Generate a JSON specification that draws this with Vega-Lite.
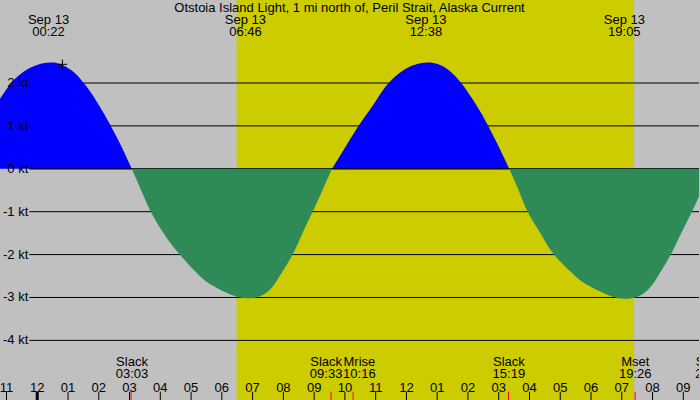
{
  "$schema": "https://vega.github.io/schema/vega-lite/v6.json",
  "width": 700,
  "height": 400,
  "autosize": {"type": "fit", "contains": "padding"},
  "padding": 0,
  "background": "#c0c0c0",
  "config": {
    "view": {"stroke": null},
    "text": {"font": "Liberation Sans", "fontSize": 13, "color": "#000000"}
  },
  "datasets": {
    "flood": [
      {"h": -1.59, "v": 1.26, "s": "F1"}, {"h": -1.34, "v": 1.5, "s": "F1"}, {"h": -1.09, "v": 1.76, "s": "F1"},
      {"h": -0.85, "v": 2.0, "s": "F1"}, {"h": -0.59, "v": 2.18, "s": "F1"}, {"h": -0.29, "v": 2.33, "s": "F1"},
      {"h": 0.06, "v": 2.44, "s": "F1"}, {"h": 0.41, "v": 2.48, "s": "F1"}, {"h": 0.76, "v": 2.44, "s": "F1"},
      {"h": 1.11, "v": 2.3, "s": "F1"}, {"h": 1.31, "v": 2.17, "s": "F1"}, {"h": 1.51, "v": 2.0, "s": "F1"},
      {"h": 1.76, "v": 1.76, "s": "F1"}, {"h": 1.99, "v": 1.5, "s": "F1"}, {"h": 2.19, "v": 1.26, "s": "F1"},
      {"h": 2.39, "v": 1.0, "s": "F1"}, {"h": 2.61, "v": 0.7, "s": "F1"}, {"h": 2.84, "v": 0.36, "s": "F1"},
      {"h": 3.07, "v": 0, "s": "F1"},
      {"h": 9.58, "v": 0, "s": "F2"}, {"h": 10.01, "v": 0.5, "s": "F2"},
      {"h": 10.44, "v": 1.0, "s": "F2"}, {"h": 10.93, "v": 1.5, "s": "F2"},
      {"h": 11.42, "v": 2.0, "s": "F2"}, {"h": 11.98, "v": 2.33, "s": "F2"}, {"h": 12.33, "v": 2.44, "s": "F2"}, {"h": 12.68, "v": 2.48, "s": "F2"},
      {"h": 13.03, "v": 2.44, "s": "F2"}, {"h": 13.38, "v": 2.3, "s": "F2"},
      {"h": 13.78, "v": 2.0, "s": "F2"}, {"h": 14.26, "v": 1.5, "s": "F2"},
      {"h": 14.66, "v": 1.0, "s": "F2"}, {"h": 15.01, "v": 0.5, "s": "F2"}, {"h": 15.34, "v": 0, "s": "F2"}
    ],
    "ebb": [
      {"h": 3.07, "v": 0, "s": "E1"}, {"h": 3.37, "v": -0.49, "s": "E1"}, {"h": 3.69, "v": -1.0, "s": "E1"},
      {"h": 4.15, "v": -1.55, "s": "E1"}, {"h": 4.63, "v": -2.0, "s": "E1"},
      {"h": 5.28, "v": -2.5, "s": "E1"}, {"h": 5.67, "v": -2.71, "s": "E1"},
      {"h": 6.15, "v": -2.89, "s": "E1"}, {"h": 6.81, "v": -3.02, "s": "E1"},
      {"h": 7.45, "v": -2.89, "s": "E1"},
      {"h": 7.88, "v": -2.5, "s": "E1"}, {"h": 8.3, "v": -2.0, "s": "E1"},
      {"h": 8.62, "v": -1.5, "s": "E1"}, {"h": 8.95, "v": -1.0, "s": "E1"}, {"h": 9.27, "v": -0.5, "s": "E1"},
      {"h": 9.58, "v": 0, "s": "E1"},
      {"h": 15.34, "v": 0, "s": "E2"}, {"h": 15.64, "v": -0.49, "s": "E2"}, {"h": 15.94, "v": -1.0, "s": "E2"},
      {"h": 16.37, "v": -1.52, "s": "E2"}, {"h": 16.8, "v": -2.0, "s": "E2"},
      {"h": 17.52, "v": -2.52, "s": "E2"}, {"h": 17.95, "v": -2.73, "s": "E2"},
      {"h": 18.42, "v": -2.9, "s": "E2"}, {"h": 19.08, "v": -3.03, "s": "E2"},
      {"h": 19.72, "v": -2.9, "s": "E2"},
      {"h": 20.16, "v": -2.52, "s": "E2"}, {"h": 20.59, "v": -2.0, "s": "E2"},
      {"h": 20.93, "v": -1.5, "s": "E2"}, {"h": 21.28, "v": -1.0, "s": "E2"}, {"h": 21.6, "v": -0.5, "s": "E2"},
      {"h": 21.89, "v": 0, "s": "E2"}
    ],
    "levels": [
      {"kt": 2, "lab": "2 kt"}, {"kt": 1, "lab": "1 kt"}, {"kt": 0, "lab": "0 kt"}, {"kt": -1, "lab": "-1 kt"},
      {"kt": -2, "lab": "-2 kt"}, {"kt": -3, "lab": "-3 kt"}, {"kt": -4, "lab": "-4 kt"}
    ],
    "hours": [
      {"h": -1, "lab": "11"}, {"h": 0, "lab": "12"}, {"h": 1, "lab": "01"}, {"h": 2, "lab": "02"},
      {"h": 3, "lab": "03"}, {"h": 4, "lab": "04"}, {"h": 5, "lab": "05"}, {"h": 6, "lab": "06"},
      {"h": 7, "lab": "07"}, {"h": 8, "lab": "08"}, {"h": 9, "lab": "09"}, {"h": 10, "lab": "10"},
      {"h": 11, "lab": "11"}, {"h": 12, "lab": "12"}, {"h": 13, "lab": "01"}, {"h": 14, "lab": "02"},
      {"h": 15, "lab": "03"}, {"h": 16, "lab": "04"}, {"h": 17, "lab": "05"}, {"h": 18, "lab": "06"},
      {"h": 19, "lab": "07"}, {"h": 20, "lab": "08"}, {"h": 21, "lab": "09"}
    ],
    "peaks": [
      {"h": 0.367, "day": "Sep 13", "time": "00:22"},
      {"h": 6.767, "day": "Sep 13", "time": "06:46"},
      {"h": 12.633, "day": "Sep 13", "time": "12:38"},
      {"h": 19.083, "day": "Sep 13", "time": "19:05"}
    ],
    "events": [
      {"h": 3.05, "lh": 3.08, "name": "Slack", "time": "03:03"},
      {"h": 9.55, "lh": 9.39, "name": "Slack", "time": "09:33"},
      {"h": 10.267, "lh": 10.47, "name": "Mrise", "time": "10:16"},
      {"h": 15.317, "lh": 15.33, "name": "Slack", "time": "15:19"},
      {"h": 19.433, "lh": 19.44, "name": "Mset", "time": "19:26"},
      {"h": 21.92, "lh": 21.92, "name": "Slack", "time": "21:55"}
    ]
  },
  "layer": [
    {
      "data": {"values": [{"rise": 6.48, "set": 19.4}]},
      "mark": {"type": "rect", "color": "#cccc00"},
      "encoding": {
        "x": {"field": "rise", "type": "quantitative", "scale": {"domain": [-1.211, 21.51], "nice": false, "zero": false}, "axis": null},
        "x2": {"field": "set"}
      }
    },
    {
      "data": {"name": "levels"},
      "mark": {"type": "rule", "color": "#000000", "strokeWidth": 1},
      "encoding": {
        "y": {"field": "kt", "type": "quantitative", "scale": {"domain": [-5.39, 3.935], "nice": false, "zero": false}, "axis": null},
        "x": {"datum": -0.26, "type": "quantitative", "scale": {"domain": [-1.211, 21.51], "nice": false, "zero": false}, "axis": null},
        "x2": {"datum": 21.51}
      }
    },
    {
      "data": {"name": "flood"},
      "mark": {"type": "area", "color": "#0000ff", "interpolate": "natural", "clip": true},
      "encoding": {
        "x": {"field": "h", "type": "quantitative", "scale": {"domain": [-1.211, 21.51], "nice": false, "zero": false}, "axis": null},
        "y": {"field": "v", "type": "quantitative", "stack": null, "scale": {"domain": [-5.39, 3.935], "nice": false, "zero": false}, "axis": null},
        "y2": {"datum": 0},
        "detail": {"field": "s"}
      }
    },
    {
      "data": {"values": [{"kt": 0}]},
      "mark": {"type": "rule", "color": "#000000", "strokeWidth": 1},
      "encoding": {
        "y": {"field": "kt", "type": "quantitative", "scale": {"domain": [-5.39, 3.935], "nice": false, "zero": false}, "axis": null},
        "x": {"datum": -0.26, "type": "quantitative", "scale": {"domain": [-1.211, 21.51], "nice": false, "zero": false}, "axis": null},
        "x2": {"datum": 21.51}
      }
    },
    {
      "data": {"name": "ebb"},
      "mark": {"type": "area", "color": "#2e8b57", "interpolate": "natural", "clip": true},
      "encoding": {
        "x": {"field": "h", "type": "quantitative", "scale": {"domain": [-1.211, 21.51], "nice": false, "zero": false}, "axis": null},
        "y": {"field": "v", "type": "quantitative", "stack": null, "scale": {"domain": [-5.39, 3.935], "nice": false, "zero": false}, "axis": null},
        "y2": {"datum": 0},
        "detail": {"field": "s"}
      }
    },
    {
      "data": {"name": "levels"},
      "mark": {"type": "text", "align": "right", "baseline": "middle", "clip": true},
      "encoding": {
        "y": {"field": "kt", "type": "quantitative", "scale": {"domain": [-5.39, 3.935], "nice": false, "zero": false}, "axis": null},
        "x": {"datum": -0.29, "type": "quantitative", "scale": {"domain": [-1.211, 21.51], "nice": false, "zero": false}, "axis": null},
        "text": {"field": "lab"}
      }
    },
    {
      "data": {"values": [{"t": "Otstoia Island Light, 1 mi north of, Peril Strait, Alaska Current"}]},
      "mark": {"type": "text", "align": "center", "baseline": "alphabetic", "clip": true},
      "encoding": {
        "x": {"datum": 10.15, "type": "quantitative", "scale": {"domain": [-1.211, 21.51], "nice": false, "zero": false}, "axis": null},
        "y": {"datum": 3.655, "type": "quantitative", "scale": {"domain": [-5.39, 3.935], "nice": false, "zero": false}, "axis": null},
        "text": {"field": "t"}
      }
    },
    {
      "data": {"name": "peaks"},
      "mark": {"type": "text", "align": "center", "baseline": "alphabetic", "clip": true},
      "encoding": {
        "x": {"field": "h", "type": "quantitative", "scale": {"domain": [-1.211, 21.51], "nice": false, "zero": false}, "axis": null},
        "y": {"datum": 3.364, "type": "quantitative", "scale": {"domain": [-5.39, 3.935], "nice": false, "zero": false}, "axis": null},
        "text": {"field": "day"}
      }
    },
    {
      "data": {"name": "peaks"},
      "mark": {"type": "text", "align": "center", "baseline": "alphabetic", "clip": true},
      "encoding": {
        "x": {"field": "h", "type": "quantitative", "scale": {"domain": [-1.211, 21.51], "nice": false, "zero": false}, "axis": null},
        "y": {"datum": 3.096, "type": "quantitative", "scale": {"domain": [-5.39, 3.935], "nice": false, "zero": false}, "axis": null},
        "text": {"field": "time"}
      }
    },
    {
      "data": {"name": "hours"},
      "mark": {"type": "rule", "color": "#000000", "clip": true},
      "encoding": {
        "x": {"field": "h", "type": "quantitative", "scale": {"domain": [-1.211, 21.51], "nice": false, "zero": false}, "axis": null},
        "y": {"datum": -5.196, "type": "quantitative", "scale": {"domain": [-5.39, 3.935], "nice": false, "zero": false}, "axis": null},
        "y2": {"datum": -5.39},
        "strokeWidth": {"condition": {"test": "datum.h == 0", "value": 3}, "value": 1}
      }
    },
    {
      "data": {"name": "hours"},
      "mark": {"type": "text", "align": "center", "baseline": "alphabetic", "clip": true},
      "encoding": {
        "x": {"field": "h", "type": "quantitative", "scale": {"domain": [-1.211, 21.51], "nice": false, "zero": false}, "axis": null},
        "y": {"datum": -5.207, "type": "quantitative", "scale": {"domain": [-5.39, 3.935], "nice": false, "zero": false}, "axis": null},
        "text": {"field": "lab"}
      }
    },
    {
      "data": {"name": "events"},
      "mark": {"type": "rule", "color": "#ff0000", "strokeWidth": 1, "clip": true},
      "encoding": {
        "x": {"field": "h", "type": "quantitative", "scale": {"domain": [-1.211, 21.51], "nice": false, "zero": false}, "axis": null},
        "y": {"datum": -5.196, "type": "quantitative", "scale": {"domain": [-5.39, 3.935], "nice": false, "zero": false}, "axis": null},
        "y2": {"datum": -5.39}
      }
    },
    {
      "data": {"name": "events"},
      "mark": {"type": "text", "align": "center", "baseline": "alphabetic", "clip": true},
      "encoding": {
        "x": {"field": "lh", "type": "quantitative", "scale": {"domain": [-1.211, 21.51], "nice": false, "zero": false}, "axis": null},
        "y": {"datum": -4.597, "type": "quantitative", "scale": {"domain": [-5.39, 3.935], "nice": false, "zero": false}, "axis": null},
        "text": {"field": "name"}
      }
    },
    {
      "data": {"name": "events"},
      "mark": {"type": "text", "align": "center", "baseline": "alphabetic", "clip": true},
      "encoding": {
        "x": {"field": "lh", "type": "quantitative", "scale": {"domain": [-1.211, 21.51], "nice": false, "zero": false}, "axis": null},
        "y": {"datum": -4.869, "type": "quantitative", "scale": {"domain": [-5.39, 3.935], "nice": false, "zero": false}, "axis": null},
        "text": {"field": "time"}
      }
    },
    {
      "data": {"values": [{"h": 0.818, "v": 2.436}]},
      "mark": {"type": "point", "shape": "M-1,0L1,0M0,-1L0,1", "size": 90, "filled": false, "color": "#000000", "strokeWidth": 1, "opacity": 1},
      "encoding": {
        "x": {"field": "h", "type": "quantitative", "scale": {"domain": [-1.211, 21.51], "nice": false, "zero": false}, "axis": null},
        "y": {"field": "v", "type": "quantitative", "scale": {"domain": [-5.39, 3.935], "nice": false, "zero": false}, "axis": null}
      }
    }
  ]
}
